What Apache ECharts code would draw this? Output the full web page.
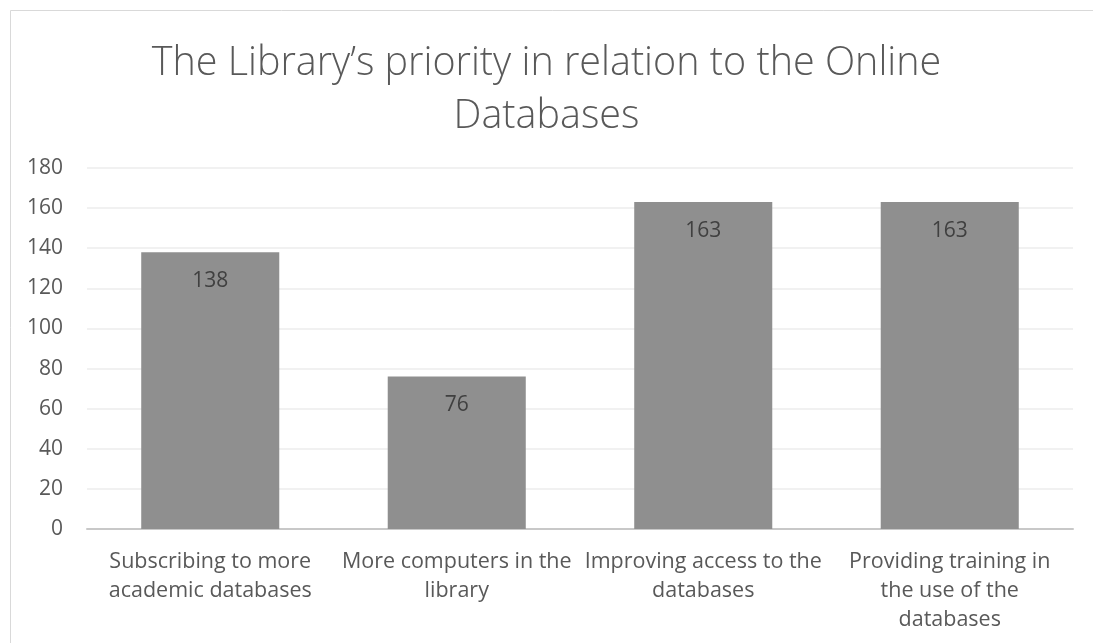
<!DOCTYPE html>
<html>
<head>
<meta charset="utf-8">
<script src="https://cdn.jsdelivr.net/npm/echarts@6/dist/echarts.min.js"></script>
<style>
  html, body { margin: 0; padding: 0; background: #ffffff; }
  #chart { width: 1093px; height: 643px; }
</style>
</head>
<body>
<div id="chart"></div>
<script>
// Survey responses: what the library should prioritise for online databases
const titleLines = ['The Library\u2019s priority in relation to the Online', 'Databases'];
const categories = [
  'Subscribing to more\nacademic databases',
  'More computers in the\nlibrary',
  'Improving access to the\ndatabases',
  'Providing training in\nthe use of the\ndatabases'
];
const responses = [138, 76, 163, 163];
const yTicks = { min: 0, max: 180, interval: 20 };

const FONT = '"Open Sans", "Noto Sans", sans-serif';

const chart = echarts.init(document.getElementById('chart'), null, { renderer: 'canvas' });

chart.setOption({
  animation: false,
  backgroundColor: '#ffffff',
  graphic: [{
    type: 'rect',
    shape: { x: 10.5, y: 10.5, width: 1200, height: 800 },
    style: { fill: 'none', stroke: '#d9d9d9', lineWidth: 1 },
    silent: true,
    z: 0
  }],
  title: {
    text: titleLines.join('\n'),
    left: 'center',
    top: 32,
    textStyle: {
      fontFamily: FONT,
      fontWeight: 300,
      fontSize: 39.5,
      lineHeight: 53,
      color: '#595959'
    }
  },
  grid: { left: 87, right: 20, top: 168, bottom: 114, containLabel: false },
  xAxis: {
    type: 'category',
    data: categories,
    axisLine: { show: true, lineStyle: { color: '#c8c8c8', width: 2 } },
    axisTick: { show: false },
    axisLabel: {
      interval: 0,
      margin: 18,
      fontFamily: FONT,
      fontSize: 21.5,
      lineHeight: 29,
      color: '#595959',
      align: 'center'
    }
  },
  yAxis: {
    type: 'value',
    min: yTicks.min,
    max: yTicks.max,
    interval: yTicks.interval,
    axisLine: { show: false },
    axisTick: { show: false },
    splitLine: { lineStyle: { color: '#ececec', width: 1.5 } },
    axisLabel: {
      margin: 24,
      fontFamily: FONT,
      fontSize: 21,
      color: '#595959'
    }
  },
  series: [{
    type: 'bar',
    data: responses,
    barCategoryGap: '44%',
    itemStyle: { color: '#8f8f8f' },
    label: {
      show: true,
      position: 'insideTop',
      distance: 18,
      fontFamily: FONT,
      fontSize: 21,
      color: '#404040'
    }
  }]
});
</script>
</body>
</html>
